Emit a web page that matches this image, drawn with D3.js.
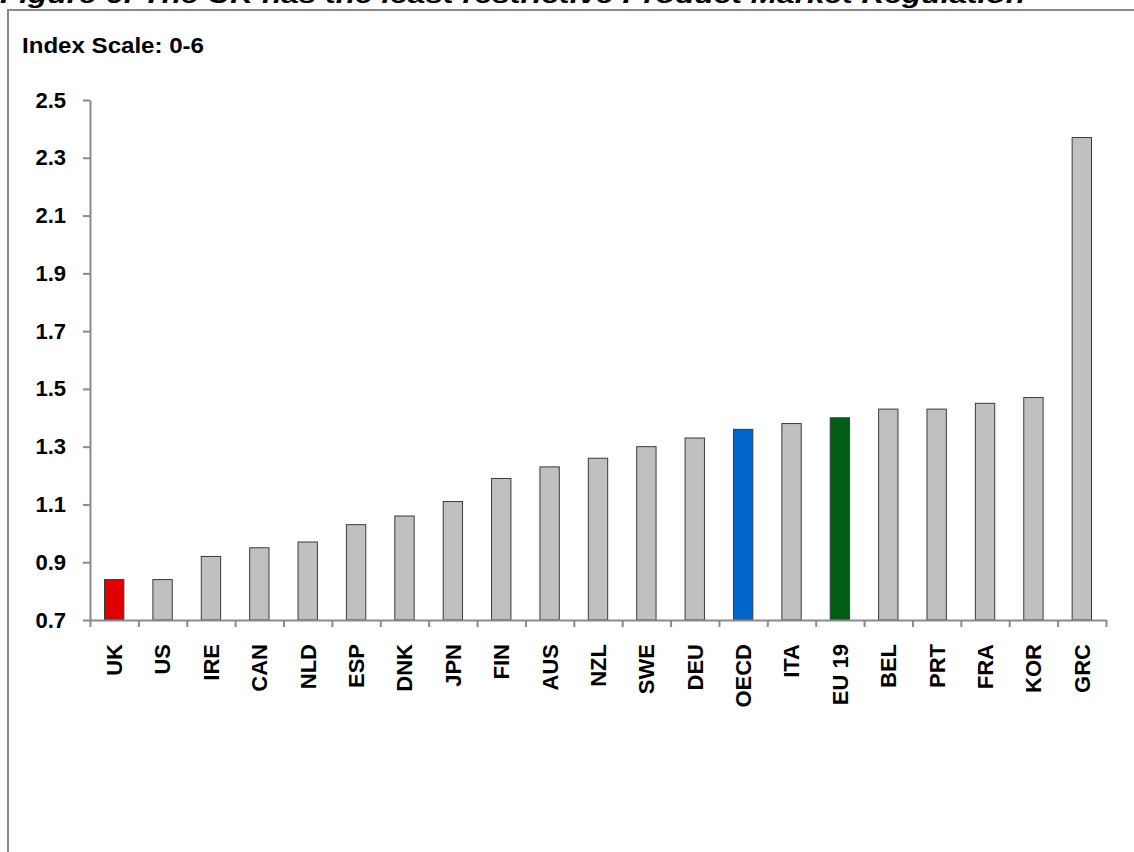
<!DOCTYPE html>
<html>
<head>
<meta charset="utf-8">
<script src="https://cdn.jsdelivr.net/npm/d3@7"></script>
<style>
  html, body { margin: 0; padding: 0; background: #fff; }
  svg { display: block; font-family: "Liberation Sans", Arial, Helvetica, sans-serif; }
</style>
</head>
<body>
<svg id="chart" width="1134" height="852"></svg>
<script>
// Product market regulation index, 2013 (scale 0-6)
const countries = ["UK", "US", "IRE", "CAN", "NLD", "ESP", "DNK", "JPN", "FIN", "AUS", "NZL",
                   "SWE", "DEU", "OECD", "ITA", "EU 19", "BEL", "PRT", "FRA", "KOR", "GRC"];
const pmrValues = [0.84, 0.84, 0.92, 0.95, 0.97, 1.03, 1.06, 1.11, 1.19, 1.23, 1.26,
                   1.30, 1.33, 1.36, 1.38, 1.40, 1.43, 1.43, 1.45, 1.47, 2.37];
const yTicks = [0.7, 0.9, 1.1, 1.3, 1.5, 1.7, 1.9, 2.1, 2.3, 2.5];
const highlight = { "UK": "#e00000", "OECD": "#0066cc", "EU 19": "#005f14" };

const titleText = "Figure 6: The UK has the least restrictive Product Market Regulation";
const unitText = "Index Scale: 0-6";

const svg = d3.select("#chart");
const axisColor = "#8a8a8a";

const plot = { left: 90, right: 1106, top: 100, bottom: 620 };

// frame around the figure
svg.append("path")
  .attr("d", `M8,852 L8,10 L1134,10`)
  .attr("fill", "none")
  .attr("stroke", axisColor)
  .attr("stroke-width", 2);

// title (sits above the frame)
svg.append("text")
  .attr("x", 0).attr("y", 3)
  .attr("font-size", 24)
  .attr("font-weight", "bold")
  .attr("font-style", "italic")
  .attr("textLength", 1025)
  .attr("lengthAdjust", "spacingAndGlyphs")
  .text(titleText);

svg.append("text")
  .attr("x", 22).attr("y", 53)
  .attr("font-size", 22)
  .attr("font-weight", "bold")
  .attr("textLength", 182)
  .attr("lengthAdjust", "spacingAndGlyphs")
  .text(unitText);

const x = d3.scaleBand().domain(countries).range([plot.left, plot.right]).padding(0);
const xEdges = d3.scaleLinear().domain([0, countries.length]).range([plot.left, plot.right]);
const y = d3.scaleLinear().domain([0.7, 2.5]).range([plot.bottom, plot.top]);

// bars
const barW = x.bandwidth() * 0.4;
svg.append("g").selectAll("rect")
  .data(countries.map((c, i) => ({ c, v: pmrValues[i] })))
  .join("rect")
  .attr("x", d => x(d.c) + (x.bandwidth() - barW) / 2)
  .attr("y", d => y(d.v))
  .attr("width", barW)
  .attr("height", d => y(0.7) - y(d.v))
  .attr("fill", d => highlight[d.c] || "#c0c0c0")
  .attr("stroke", "#3a3a3a")
  .attr("stroke-width", 1);

// y axis
const yAxis = svg.append("g")
  .attr("transform", `translate(${plot.left},0)`)
  .call(d3.axisLeft(y).tickValues(yTicks).tickFormat(d3.format(".1f"))
    .tickSize(7).tickSizeOuter(0).tickPadding(17));
yAxis.selectAll("path, line").attr("stroke", axisColor).attr("stroke-width", 2);
yAxis.selectAll("text")
  .attr("font-size", 22).attr("font-weight", "bold").attr("fill", "#000")
  .attr("font-family", "Liberation Sans, Arial, sans-serif");

// x axis line with ticks at category boundaries
const xAxis = svg.append("g")
  .attr("transform", `translate(0,${plot.bottom})`)
  .call(d3.axisBottom(xEdges).tickValues(d3.range(countries.length + 1))
    .tickFormat("").tickSize(7).tickSizeOuter(0));
xAxis.selectAll("path, line").attr("stroke", axisColor).attr("stroke-width", 2);

// category labels, rotated
const xLabels = svg.append("g")
  .attr("transform", `translate(0,${plot.bottom})`)
  .call(d3.axisBottom(x).tickSize(0).tickPadding(0));
xLabels.select(".domain").remove();
xLabels.selectAll("text")
  .attr("transform", "rotate(-90)")
  .attr("x", -24).attr("y", 0).attr("dy", "0.36em")
  .attr("text-anchor", "end")
  .attr("font-size", 22).attr("font-weight", "bold").attr("fill", "#000")
  .attr("font-family", "Liberation Sans, Arial, sans-serif");
</script>
</body>
</html>
